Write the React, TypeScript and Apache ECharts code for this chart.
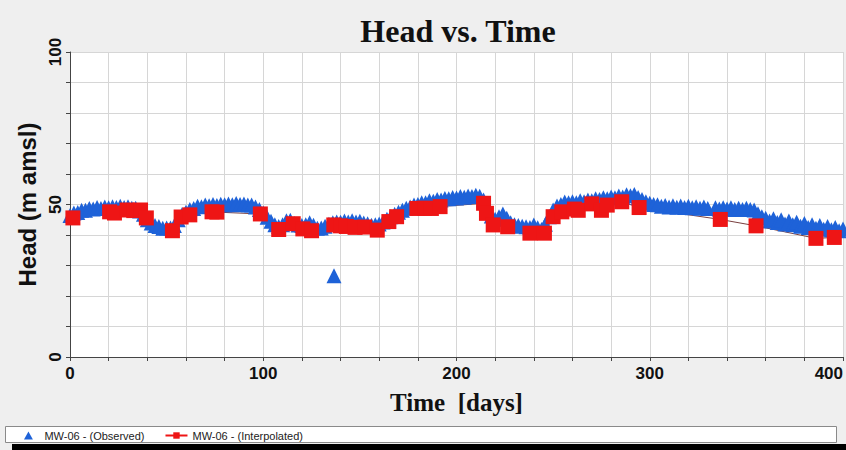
import React, { useEffect, useRef } from 'react';
import * as echarts from 'echarts';

const TITLE = 'Head vs. Time';
const X_NAME = 'Time  [days]';
const Y_NAME = 'Head (m amsl)';
const OBS_NAME = 'MW-06 - (Observed)';
const INT_NAME = 'MW-06 - (Interpolated)';

const xTickLabels = [0, 100, 200, 300, 400];
const yTickLabels = [0, 50, 100];

// Observed heads [day, m amsl]
const observed: [number, number][] = [
  [0, 46.4], [2, 47.2], [4, 47.4], [6, 48.1], [8, 48.1], [10, 48.7], [12, 48.5], [14, 49.0], [16, 48.7], [18, 49.2],
  [20, 48.9], [22, 49.3], [24, 49.0], [26, 49.4], [28, 49.0], [30, 49.3], [32, 48.8], [34, 48.8], [36, 47.9], [38, 46.8],
  [40, 45.0], [42, 43.9], [44, 43.1], [46, 42.8], [48, 42.2], [50, 42.3], [52, 42.3], [54, 43.1], [56, 45.0], [58, 46.7],
  [60, 47.5], [62, 48.4], [64, 48.7], [66, 49.4], [68, 49.3], [70, 49.8], [72, 49.6], [74, 50.0], [76, 49.7], [78, 50.1],
  [80, 49.9], [82, 50.2], [84, 49.9], [86, 50.3], [88, 50.0], [90, 50.2], [92, 49.8], [94, 49.8], [96, 49.2], [98, 48.4],
  [100, 47.2], [102, 45.8], [104, 44.5], [106, 43.4], [108, 42.8], [110, 43.4], [112, 44.7], [114, 44.8], [116, 43.8], [118, 43.3],
  [120, 43.1], [122, 43.4], [124, 44.0], [126, 43.2], [128, 42.2], [130, 42.3], [132, 42.9], [134, 43.5], [136, 44.0], [138, 44.3],
  [140, 44.2], [142, 44.6], [144, 44.3], [146, 44.7], [148, 44.3], [150, 44.5], [152, 43.9], [154, 43.7], [156, 43.2], [158, 43.4],
  [160, 43.6], [162, 44.3], [164, 45.2], [166, 46.0], [168, 46.8], [170, 47.5], [172, 48.1], [174, 48.8], [176, 49.2], [178, 49.8],
  [180, 50.0], [182, 50.6], [184, 50.6], [186, 51.2], [188, 51.1], [190, 51.6], [192, 51.5], [194, 52.0], [196, 51.9], [198, 52.3],
  [200, 52.1], [202, 52.6], [204, 52.4], [206, 52.8], [208, 52.6], [210, 53.0], [212, 52.7], [214, 51.5], [216, 48.5], [218, 46.2],
  [220, 45.2], [222, 46.0], [224, 46.9], [226, 45.5], [228, 44.0], [230, 43.4], [232, 43.1], [234, 42.9], [236, 42.7], [238, 42.5],
  [240, 43.3], [242, 42.4], [244, 41.8], [246, 43.5], [248, 46.0], [250, 48.2], [252, 49.5], [254, 50.0], [256, 50.8], [258, 50.6],
  [260, 50.9], [262, 50.6], [264, 51.2], [266, 50.9], [268, 51.5], [270, 51.2], [272, 51.9], [274, 51.6], [276, 52.2], [278, 51.9],
  [280, 52.5], [282, 52.2], [284, 52.8], [286, 52.5], [288, 53.2], [290, 52.9], [292, 53.3], [294, 52.3], [296, 51.6], [298, 50.9],
  [300, 50.4], [302, 50.0], [304, 49.9], [306, 49.4], [308, 49.7], [310, 49.2], [312, 49.6], [314, 49.1], [316, 49.5], [318, 49.0],
  [320, 49.4], [322, 48.9], [324, 49.3], [326, 48.8], [328, 49.2], [330, 48.7], [334, 48.9], [336, 48.5], [338, 48.9], [340, 48.5],
  [342, 48.9], [344, 48.4], [346, 48.8], [348, 48.4], [350, 48.8], [352, 48.4], [354, 48.2], [356, 47.0], [358, 46.0], [360, 45.5],
  [362, 44.6], [364, 45.3], [366, 44.1], [368, 45.0], [370, 43.6], [372, 44.6], [374, 43.4], [376, 44.2], [378, 42.9], [380, 43.8],
  [382, 42.5], [384, 43.4], [386, 42.2], [388, 43.1], [390, 41.9], [392, 42.8], [394, 41.7], [396, 42.5], [398, 41.4], [400, 42.0],
  [136.6, 26.6],
];

// Interpolated heads [day, m amsl]
const interpolated: [number, number][] = [
  [1.5, 45.6], [20.5, 47.6], [23, 47.2], [29.5, 48.2], [33, 48.0], [36.5, 48.2], [39.5, 45.6], [53, 41.4], [57.5, 45.9], [62, 46.6],
  [73.5, 47.6], [76, 47.5], [98.5, 46.9], [108, 41.8], [115.5, 43.7], [120.5, 42.0], [125, 41.4], [136.5, 43.3], [140, 43.0], [143, 42.8],
  [147.5, 42.5], [152.5, 42.6], [159, 41.6], [165, 44.4], [169, 46.0], [179.5, 48.7], [183.5, 48.8], [187, 48.7], [191.5, 49.3], [214, 50.4],
  [215.5, 47.1], [219, 43.3], [226.5, 42.7], [238, 40.6], [245.5, 40.6], [250, 46.0], [254.5, 47.6], [261, 48.5], [263, 48.1], [270, 50.2],
  [275, 48.1], [278, 49.8], [285.5, 50.9], [294.5, 49.0], [336.5, 45.1], [355, 43.0], [386, 38.9], [395.5, 39.2],
];

const SANS = '"Liberation Sans", Arial, sans-serif';
const SERIF = '"Liberation Serif", "Times New Roman", serif';
const BLUE = '#1e62d8';
const RED = '#ee1515';

export default function App() {
  const ref = useRef<HTMLDivElement>(null);

  useEffect(() => {
    if (!ref.current) return;
    const chart = echarts.init(ref.current, undefined, { renderer: 'svg' });
    const option: any = {
      animation: false,
      backgroundColor: '#efefef',
      graphic: [
        {
          type: 'text',
          x: 458,
          y: 31,
          z: 10,
          style: {
            text: TITLE,
            fontSize: 32,
            fontWeight: 'bold',
            fontFamily: SERIF,
            fill: '#111',
            align: 'center',
            verticalAlign: 'middle',
            textAlign: 'center',
            textVerticalAlign: 'middle',
          },
        },
        {
          type: 'rect',
          z: 1,
          shape: { x: 5.5, y: 426.5, width: 831, height: 16 },
          style: { fill: '#ffffff', stroke: '#8a8a8a', lineWidth: 1 },
        },
        {
          type: 'rect',
          z: 1,
          shape: { x: 12, y: 444, width: 834, height: 6 },
          style: { fill: '#000000' },
        },
      ],
      grid: {
        left: 70,
        right: 0,
        top: 52,
        bottom: 93,
        show: true,
        backgroundColor: '#ffffff',
        borderWidth: 0,
      },
      legend: {
        left: 24,
        top: 430,
        padding: 0,
        itemWidth: 22,
        itemHeight: 8,
        itemGap: 20,
        z: 20,
        symbolKeepAspect: true,
        textStyle: { fontSize: 11, color: '#222', fontFamily: SANS },
        data: [
          { name: OBS_NAME, icon: 'path://M5,0L10,9L0,9Z', itemStyle: { color: BLUE, opacity: 1 } },
          { name: INT_NAME, itemStyle: { color: RED, opacity: 1 }, lineStyle: { color: RED, width: 2 } },
        ],
      },
      xAxis: {
        type: 'value',
        min: 0,
        max: 400,
        interval: 20,
        axisLine: { show: true, lineStyle: { color: '#444' } },
        axisTick: { show: true, length: 4, lineStyle: { color: '#444' } },
        splitLine: { show: true, lineStyle: { color: '#d6d6d6' } },
        axisLabel: {
          margin: 8,
          fontSize: 17,
          fontWeight: 'bold',
          fontFamily: SANS,
          color: '#111',
          alignMaxLabel: 'right',
          formatter: (v: number) => (xTickLabels.includes(v) ? String(v) : ''),
        },
        name: X_NAME,
        nameLocation: 'middle',
        nameGap: 33,
        nameTextStyle: { fontSize: 25, fontWeight: 'bold', fontFamily: SERIF, color: '#111' },
      },
      yAxis: {
        type: 'value',
        min: 0,
        max: 100,
        interval: 10,
        axisLine: { show: true, lineStyle: { color: '#444' } },
        axisTick: { show: true, length: 4, lineStyle: { color: '#444' } },
        splitLine: { show: true, lineStyle: { color: '#d6d6d6' } },
        axisLabel: {
          rotate: 90,
          margin: 6,
          fontSize: 17,
          fontWeight: 'bold',
          fontFamily: SANS,
          color: '#111',
          formatter: (v: number) => (yTickLabels.includes(v) ? String(v) : ''),
        },
        name: Y_NAME,
        nameLocation: 'middle',
        nameRotate: 90,
        nameGap: 28,
        nameTextStyle: { fontSize: 24, fontWeight: 'bold', fontFamily: SANS, color: '#111' },
      },
      series: [
        {
          name: INT_NAME,
          type: 'line',
          data: interpolated,
          symbol: 'rect',
          symbolSize: 15,
          showSymbol: false,
          itemStyle: { color: RED, opacity: 1 },
          lineStyle: { color: '#7a4040', width: 1 },
          z: 1,
        },
        {
          name: OBS_NAME,
          type: 'scatter',
          data: observed,
          symbol: 'triangle',
          symbolSize: 15,
          itemStyle: { color: BLUE, opacity: 1 },
          z: 2,
        },
        {
          name: INT_NAME,
          type: 'scatter',
          data: interpolated,
          symbol: 'rect',
          symbolSize: 15,
          itemStyle: { color: RED, opacity: 1 },
          z: 3,
        },
      ],
    };
    chart.setOption(option);
    return () => chart.dispose();
  }, []);

  return (
    <div
      ref={ref}
      style={{ position: 'fixed', left: 0, top: 0, width: 846, height: 450 }}
    />
  );
}
